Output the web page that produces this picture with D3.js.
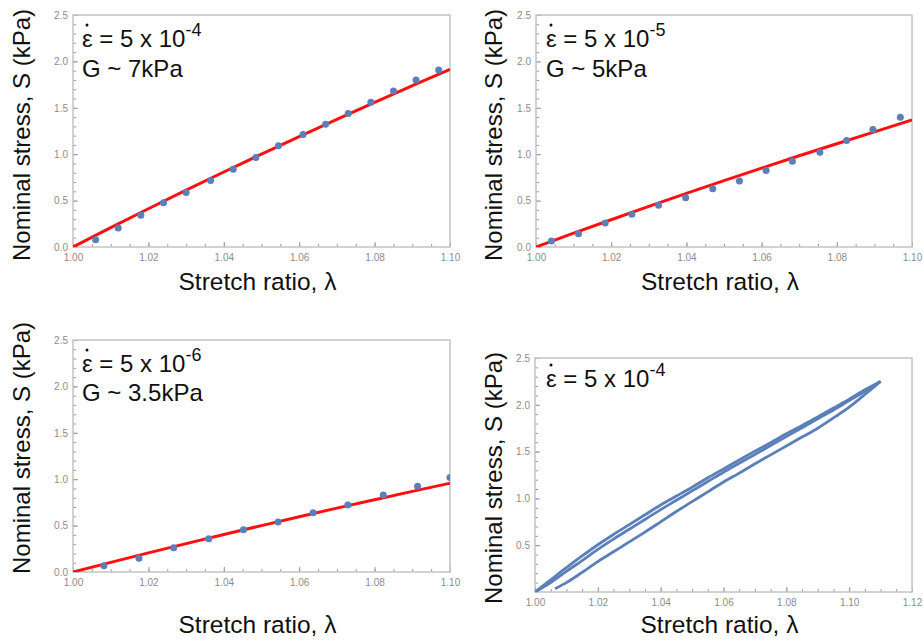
<!DOCTYPE html>
<html>
<head>
<meta charset="utf-8">
<script src="https://cdn.jsdelivr.net/npm/d3@7"></script>
<style>
  html, body { margin: 0; padding: 0; background: #fff; }
  svg { display: block; font-family: "Liberation Sans", Arial, Helvetica, sans-serif; }
</style>
</head>
<body>
<svg id="chart" width="924" height="641"></svg>
<script>
// ---------- data ----------
const xTicksShort = [1.00, 1.02, 1.04, 1.06, 1.08, 1.10];
const xTicksLong  = [1.00, 1.02, 1.04, 1.06, 1.08, 1.10, 1.12];
const yTicksFull  = [0.0, 0.5, 1.0, 1.5, 2.0, 2.5];
const yTicksNoZero = [0.5, 1.0, 1.5, 2.0, 2.5];

const fitLambda = [1.00, 1.01, 1.02, 1.03, 1.04, 1.05, 1.06, 1.07, 1.08, 1.09, 1.10];

// Panel 1: strain rate 5e-4, G ~ 7 kPa
const p1Lambda = [1.006, 1.012, 1.018, 1.024, 1.030, 1.0365, 1.0425, 1.0485, 1.0545, 1.061, 1.067, 1.073, 1.079, 1.085, 1.091, 1.097];
const p1Stress = [0.079, 0.205, 0.342, 0.478, 0.586, 0.716, 0.838, 0.964, 1.090, 1.212, 1.324, 1.439, 1.561, 1.680, 1.800, 1.906];
const p1Fit    = [0, 0.208, 0.412, 0.612, 0.808, 1.001, 1.190, 1.376, 1.559, 1.738, 1.915];

// Panel 2: strain rate 5e-5, G ~ 5 kPa
const p2Lambda = [1.0041, 1.0113, 1.0184, 1.0255, 1.0326, 1.0398, 1.047, 1.0541, 1.0612, 1.0682, 1.0755, 1.0826, 1.0896, 1.0969];
const p2Stress = [0.065, 0.144, 0.259, 0.353, 0.450, 0.532, 0.629, 0.712, 0.824, 0.924, 1.022, 1.147, 1.266, 1.399];
const p2Fit    = [0, 0.149, 0.294, 0.437, 0.577, 0.715, 0.850, 0.983, 1.113, 1.241, 1.368];

// Panel 3: strain rate 5e-6, G ~ 3.5 kPa
const p3Lambda = [1.0082, 1.0175, 1.0267, 1.036, 1.0452, 1.0544, 1.0637, 1.0729, 1.0823, 1.0914, 1.100];
const p3Stress = [0.068, 0.147, 0.262, 0.359, 0.456, 0.538, 0.638, 0.721, 0.829, 0.925, 1.019];
const p3Fit    = [0, 0.104, 0.206, 0.306, 0.404, 0.500, 0.595, 0.688, 0.779, 0.869, 0.957];

// Panel 4: cyclic loading at 5e-4
const hysLambda = [1.000, 1.005, 1.010, 1.015, 1.020, 1.025, 1.030, 1.035, 1.040, 1.045, 1.050, 1.055, 1.060, 1.065, 1.070, 1.075, 1.080, 1.085, 1.090, 1.095, 1.100, 1.105, 1.110];
const hysLoad1  = [0, 0.13, 0.26, 0.385, 0.505, 0.615, 0.72, 0.825, 0.93, 1.025, 1.12, 1.22, 1.315, 1.41, 1.505, 1.595, 1.69, 1.78, 1.87, 1.965, 2.06, 2.16, 2.25];
const hysLoad2  = [0, 0.10, 0.22, 0.335, 0.455, 0.565, 0.67, 0.775, 0.88, 0.98, 1.08, 1.18, 1.28, 1.375, 1.47, 1.565, 1.66, 1.755, 1.85, 1.945, 2.045, 2.145, 2.25];
const unloadLambda = [1.0064, 1.010, 1.015, 1.020, 1.025, 1.030, 1.035, 1.040, 1.045, 1.050, 1.055, 1.060, 1.065, 1.070, 1.075, 1.080, 1.085, 1.090, 1.095, 1.100, 1.105, 1.110];
const unloadStress = [0.036, 0.10, 0.21, 0.325, 0.43, 0.535, 0.64, 0.75, 0.86, 0.965, 1.07, 1.175, 1.27, 1.37, 1.465, 1.56, 1.655, 1.75, 1.86, 1.975, 2.11, 2.25];

const xTitle = "Stretch ratio, λ";
const yTitle = "Nominal stress, S (kPa)";

// ---------- styles ----------
const BLUE = "#5b7fb9";
const RED = "#ff1010";
const FRAME = "#c4c4c4";
const TICK = "#9a9a9a";
const LABEL = "#8c8c8c";

const svg = d3.select("#chart");

const panels = [
  { id: "p1", box: {l: 73, r: 450, t: 15, b: 247}, xDomain: [1.0, 1.10], xTicks: xTicksShort, yTicks: yTicksFull,
    pts: [p1Lambda, p1Stress], fit: [fitLambda, p1Fit], lines: null,
    ann: {x: 82, y1: 47, exp: "-4", g: "G ~ 7kPa", y2: 77}, yTitleX: 30, yTitleY: 135, xTitleY: 290 },
  { id: "p2", box: {l: 536, r: 912, t: 15, b: 247}, xDomain: [1.0, 1.10], xTicks: xTicksShort, yTicks: yTicksFull,
    pts: [p2Lambda, p2Stress], fit: [fitLambda, p2Fit], lines: null,
    ann: {x: 546, y1: 47, exp: "-5", g: "G ~ 5kPa", y2: 77}, yTitleX: 502, yTitleY: 135, xTitleY: 290 },
  { id: "p3", box: {l: 73, r: 450, t: 340, b: 572}, xDomain: [1.0, 1.10], xTicks: xTicksShort, yTicks: yTicksFull,
    pts: [p3Lambda, p3Stress], fit: [fitLambda, p3Fit], lines: null,
    ann: {x: 82, y1: 372, exp: "-6", g: "G ~ 3.5kPa", y2: 401}, yTitleX: 30, yTitleY: 448, xTitleY: 633 },
  { id: "p4", box: {l: 535, r: 912, t: 358, b: 592}, xDomain: [1.0, 1.12], xTicks: xTicksLong, yTicks: yTicksNoZero,
    pts: null, fit: null,
    lines: [[hysLambda, hysLoad1], [hysLambda, hysLoad2], [unloadLambda, unloadStress]],
    ann: {x: 546, y1: 387, exp: "-4", g: null}, yTitleX: 502, yTitleY: 478, xTitleY: 633 }
];

panels.forEach(p => {
  const {l, r, t, b} = p.box;
  const x = d3.scaleLinear().domain(p.xDomain).range([l, r]);
  const y = d3.scaleLinear().domain([0, 2.5]).range([b, t]);
  const g = svg.append("g").attr("class", p.id);

  g.append("clipPath").attr("id", "clip-" + p.id)
    .append("rect").attr("x", l).attr("y", t).attr("width", r - l).attr("height", b - t);

  // minor ticks
  const xMinor = d3.range(p.xDomain[0], p.xDomain[1] + 1e-9, 0.005);
  const yMinor = d3.range(0, 2.5 + 1e-9, 0.1);
  g.append("g").attr("transform", `translate(0,${b})`)
    .call(d3.axisBottom(x).tickValues(xMinor).tickSize(-3).tickFormat(""))
    .call(s => s.select(".domain").remove())
    .call(s => s.selectAll("line").attr("stroke", TICK));
  g.append("g").attr("transform", `translate(${l},0)`)
    .call(d3.axisLeft(y).tickValues(yMinor).tickSize(-3).tickFormat(""))
    .call(s => s.select(".domain").remove())
    .call(s => s.selectAll("line").attr("stroke", TICK));

  // major ticks + labels
  g.append("g").attr("transform", `translate(0,${b})`)
    .call(d3.axisBottom(x).tickValues(p.xTicks).tickSize(-5).tickPadding(7).tickFormat(d3.format(".2f")))
    .call(s => s.select(".domain").remove())
    .call(s => s.selectAll("line").attr("stroke", TICK))
    .call(s => s.selectAll("text").attr("fill", LABEL).attr("font-size", 10)
      .attr("font-family", "'Liberation Sans', Arial, sans-serif"));
  g.append("g").attr("transform", `translate(${l},0)`)
    .call(d3.axisLeft(y).tickValues(p.yTicks).tickSize(-5).tickPadding(5).tickFormat(d3.format(".1f")))
    .call(s => s.select(".domain").remove())
    .call(s => s.selectAll("line").attr("stroke", TICK))
    .call(s => s.selectAll("text").attr("fill", LABEL).attr("font-size", 10)
      .attr("font-family", "'Liberation Sans', Arial, sans-serif"));

  // frame
  g.append("rect").attr("x", l).attr("y", t).attr("width", r - l).attr("height", b - t)
    .attr("fill", "none").attr("stroke", FRAME).attr("stroke-width", 1.5);

  const plot = g.append("g").attr("clip-path", `url(#clip-${p.id})`);
  const line = d3.line().x(d => x(d[0])).y(d => y(d[1])).curve(d3.curveMonotoneX);

  if (p.fit) {
    const fd = p.fit[0].map((v, i) => [v, p.fit[1][i]]);
    plot.append("path").datum(fd).attr("d", line)
      .attr("fill", "none").attr("stroke", RED).attr("stroke-width", 3);
  }
  if (p.lines) {
    p.lines.forEach(([lx, ly]) => {
      const ld = lx.map((v, i) => [v, ly[i]]);
      plot.append("path").datum(ld).attr("d", line)
        .attr("fill", "none").attr("stroke", BLUE).attr("stroke-width", 2.8).attr("stroke-linejoin", "round");
    });
  }
  if (p.pts) {
    const pd = p.pts[0].map((v, i) => [v, p.pts[1][i]]);
    plot.selectAll("circle.pt").data(pd).join("circle").attr("class", "pt")
      .attr("cx", d => x(d[0])).attr("cy", d => y(d[1])).attr("r", 3.5).attr("fill", BLUE);
  }

  // annotation: ε with a dot above (strain rate)
  const a = p.ann;
  const t1 = g.append("text").attr("x", a.x).attr("y", a.y1).attr("font-size", 24).attr("fill", "#111");
  t1.append("tspan").text("ε = 5 x 10");
  t1.append("tspan").attr("dy", -11).attr("font-size", 18).text(a.exp);
  g.append("circle").attr("cx", a.x + 5).attr("cy", a.y1 - 22).attr("r", 1.5).attr("fill", "#111");
  if (a.g) {
    g.append("text").attr("x", a.x).attr("y", a.y2).attr("font-size", 24).attr("fill", "#111").text(a.g);
  }

  // axis titles
  g.append("text").attr("x", (l + r) / 2 - 4).attr("y", p.xTitleY).attr("text-anchor", "middle")
    .attr("font-size", 24.5).attr("fill", "#111").text(xTitle);
  g.append("text").attr("transform", `translate(${p.yTitleX},${p.yTitleY}) rotate(-90)`)
    .attr("text-anchor", "middle").attr("font-size", 24).attr("fill", "#111").text(yTitle);
});
</script>
</body>
</html>
